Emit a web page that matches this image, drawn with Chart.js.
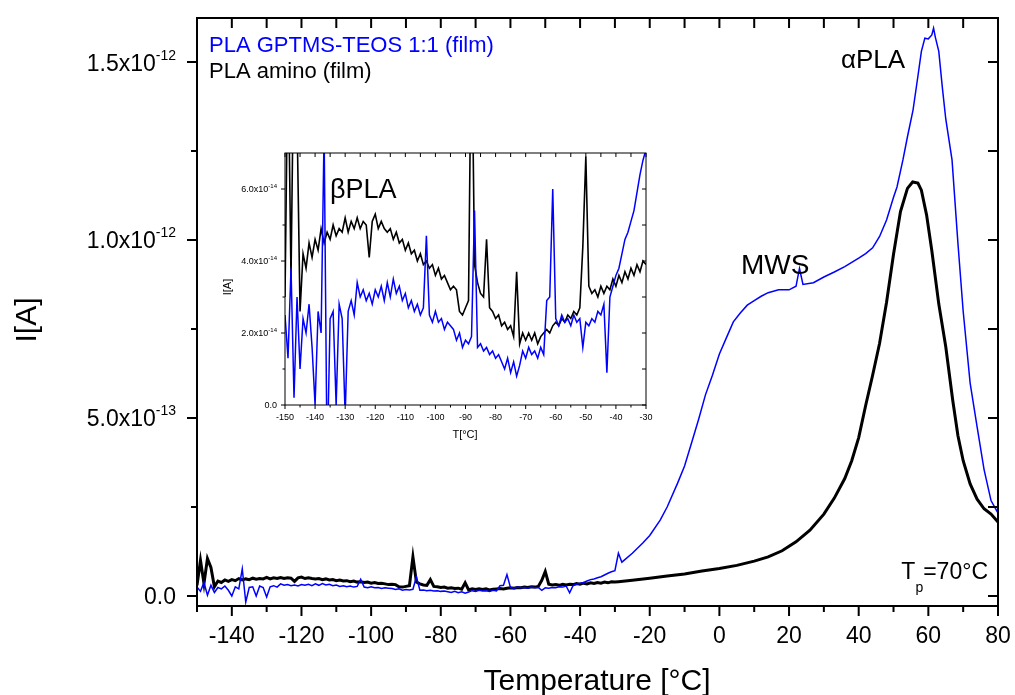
<!DOCTYPE html>
<html>
<head>
<meta charset="utf-8">
<script src="https://cdn.jsdelivr.net/npm/chart.js@4/dist/chart.umd.min.js"></script>
<style>
  body { margin: 0; background: #fff; }
  #wrap { position: relative; width: 1015px; height: 695px; }
  #inset { position: absolute; left: 220px; top: 140px; }
</style>
</head>
<body>
<div id="wrap">
  <canvas id="main" width="1015" height="695"></canvas>
  <canvas id="inset" width="440" height="310"></canvas>
</div>
<script>
// low temperature part, shared by main plot and inset (current in units of 1e-14 A)
const lowT = [
  -150,-149,-148,-147,-146,-145,-144,-143,-142,-141,
  -140,-139,-138,-137,-136,-135,-134,-133,-132,-131,
  -130,-129,-128,-127,-126,-125,-124,-123,-122,-121,
  -120,-119,-118,-117,-116,-115,-114,-113,-112,-111,
  -110,-109,-108,-107,-106,-105,-104,-103,-102,-101,
  -100,-99,-98,-97,-96,-95,-94,-93,-92,-91,
  -90,-89,-88,-87,-86,-85,-84,-83,-82,-81,
  -80,-79,-78,-77,-76,-75,-74,-73,-72,-71,
  -70,-69,-68,-67,-66,-65,-64,-63,-62,-61,
  -60,-59,-58,-57,-56,-55,-54,-53,-52,-51,
  -50,-49,-48,-47,-46,-45,-44,-43,-42,-41,
  -40,-39,-38,-37,-36,-35,-34,-33,-32,-31,
  -30];
const blackLow = [
  3.0, 10.0, 3.5, 10.5, 8.0, 2.6, 4.2, 3.8, 4.5, 4.1,
  4.6, 4.3, 4.9, 4.5, 4.8, 4.6, 5.0, 4.7, 4.9, 4.8,
  5.2, 4.8, 5.1, 4.9, 5.2, 4.9, 5.1, 5.0, 4.1, 5.1,
  5.3, 4.9, 5.1, 4.9, 4.8, 4.9, 4.6, 4.8, 4.5, 4.6,
  4.3, 4.5, 4.2, 4.3, 4.0, 4.2, 3.9, 4.0, 3.8, 3.9,
  3.6, 3.8, 3.5, 3.6, 3.4, 3.2, 3.3, 3.2, 2.6, 2.5,
  2.7, 2.9, 11.0, 3.9, 3.4, 3.1, 3.0, 4.6, 2.7, 2.6,
  2.4, 2.5, 2.2, 2.3, 2.1, 2.2, 1.9, 3.7, 1.7, 2.0,
  1.8, 2.0, 1.8, 2.0, 1.7, 1.9, 2.0, 2.1, 2.0, 2.2,
  2.3, 2.2, 2.4, 2.3, 2.5, 2.4, 2.6, 2.5, 2.7, 4.4,
  6.9, 3.3, 3.1, 3.2, 3.0, 3.3, 3.1, 3.3, 3.2, 3.5,
  3.3, 3.6, 3.4, 3.7, 3.5, 3.8, 3.6, 3.9, 3.7, 4.0,
  3.9];
const blueLow = [
  2.5, 1.3, 3.8, 0.2, 3.0, 1.0, 2.4, 2.0, 2.8, 1.6,
  0.0, 2.6, 2.0, 7.6, -1.7, 2.4, 2.6, 0.0, 2.8, 2.4,
  -0.3, 2.6, 2.9, 2.5, 3.4, 3.0, 3.2, 2.9, 3.1, 2.8,
  3.2, 3.0, 3.3, 2.9, 3.4, 3.0, 3.5, 3.1, 3.3, 2.9,
  3.1, 2.7, 2.9, 2.6, 2.8, 2.5, 2.7, 4.7, 2.5, 2.3,
  2.6, 2.3, 2.4, 2.1, 2.3, 2.2, 2.1, 1.8, 2.0, 1.6,
  1.8, 1.7, 1.9, 5.4, 1.6, 1.7, 1.5, 1.6, 1.4, 1.5,
  1.3, 1.4, 1.2, 1.0, 1.3, 0.9, 1.2, 0.8, 1.1, 1.5,
  1.3, 1.6, 1.4, 1.5, 1.3, 1.6, 1.4, 2.9, 3.0, 6.0,
  2.4, 2.2, 2.5, 2.3, 2.4, 2.2, 2.5, 2.3, 2.4, 1.6,
  2.3, 2.2, 2.4, 2.3, 2.6, 2.5, 2.8, 0.9, 3.0, 3.3,
  3.6, 3.8, 4.2, 4.6, 4.8, 5.1, 5.4, 5.9, 6.4, 6.8,
  7.1];

// high temperature part (current in units of 1e-13 A)
const blueHighT = [-29, -28, -25, -22, -20, -17, -15, -12, -10, -8, -6, -4, -2, 0, 2, 4, 6, 8, 10, 12, 14, 17, 20, 22, 23, 24, 27, 30, 33, 36, 40, 42, 44, 46, 48, 50, 51, 52.7, 54, 55.6, 57, 58, 59, 60, 61, 61.5, 62, 63, 64, 65, 66.8, 68.5, 70, 72, 74, 76, 78, 80];
const blueHighI = [1.2, 0.95, 1.2, 1.49, 1.7, 2.13, 2.5, 3.17, 3.65, 4.3, 4.95, 5.65, 6.2, 6.8, 7.25, 7.7, 7.95, 8.17, 8.3, 8.42, 8.52, 8.6, 8.6, 8.7, 9.2, 8.75, 8.8, 8.96, 9.1, 9.25, 9.49, 9.62, 9.78, 10.1, 10.56, 11.2, 11.49, 12.25, 12.9, 13.65, 14.6, 15.3, 15.67, 15.65, 15.76, 15.95, 15.7, 15.3, 14.3, 13.4, 12.25, 9.9, 8.0, 5.98, 4.75, 3.55, 2.68, 2.33];
const blackHighT = [-29, -25, -20, -15, -10, -5, 0, 5, 10, 14, 18, 22, 26, 30, 33, 36, 38, 40, 42, 44, 46, 48, 50, 52, 54, 55.5, 57, 58, 59.5, 61, 63, 65, 67, 68.5, 70, 72, 74, 76, 78, 80];
const blackHighI = [0.4, 0.44, 0.5, 0.56, 0.62, 0.7, 0.77, 0.86, 0.98, 1.1, 1.27, 1.52, 1.85, 2.3, 2.75, 3.3, 3.8, 4.45, 5.35, 6.2, 7.1, 8.25, 9.6, 10.8, 11.45, 11.63, 11.6, 11.4, 10.7, 9.7, 8.2, 7.0, 5.5, 4.5, 3.8, 3.15, 2.72, 2.45, 2.3, 2.08];

// ticks
const mainXTicks = [-140, -120, -100, -80, -60, -40, -20, 0, 20, 40, 60, 80];
const mainXMinor = [-150, -130, -110, -90, -70, -50, -30, -10, 10, 30, 50, 70];
const mainYTicks = [0, 0.5e-12, 1.0e-12, 1.5e-12];
const mainYMinor = [0.25e-12, 0.75e-12, 1.25e-12];
const mainYLabels = [['0.0', ''], ['5.0x10', '-13'], ['1.0x10', '-12'], ['1.5x10', '-12']];
const insetXTicks = [-150, -140, -130, -120, -110, -100, -90, -80, -70, -60, -50, -40, -30];
const insetXMinor = [-145, -135, -125, -115, -105, -95, -85, -75, -65, -55, -45, -35];
const insetYTicks = [0, 2e-14, 4e-14, 6e-14];
const insetYMinor = [1e-14, 3e-14, 5e-14];
const insetYLabels = [['0.0', ''], ['2.0x10', '-14'], ['4.0x10', '-14'], ['6.0x10', '-14']];

const FONT = '"Liberation Sans", Arial, sans-serif';
const BLUE = '#0000ff';

function pts(ts, vs, unit) {
  return ts.map((t, i) => ({ x: t, y: vs[i] * unit }));
}

// frame, ticks and tick labels drawn from the chart's scales
function framePlugin(o) {
  return {
    id: 'frame',
    afterDatasetsDraw(chart) {
      const { ctx, chartArea: a, scales: { x, y } } = chart;
      ctx.save();
      ctx.strokeStyle = '#000';
      ctx.lineWidth = o.lw;
      ctx.strokeRect(a.left, a.top, a.right - a.left, a.bottom - a.top);
      ctx.beginPath();
      const xt = (v, len, inLen) => {
        const px = x.getPixelForValue(v);
        ctx.moveTo(px, a.bottom); ctx.lineTo(px, a.bottom + len);
        ctx.moveTo(px, a.top); ctx.lineTo(px, a.top + inLen);
      };
      const yt = (v, len, inLen) => {
        const py = y.getPixelForValue(v);
        ctx.moveTo(a.left, py); ctx.lineTo(a.left - len, py);
        ctx.moveTo(a.right, py); ctx.lineTo(a.right - inLen, py);
      };
      o.xMajor.forEach(v => xt(v, o.major, o.major));
      o.xMinor.forEach(v => xt(v, o.minor, o.major));
      o.yMajor.forEach(v => yt(v, o.major, o.major));
      o.yMinor.forEach(v => yt(v, o.minor, o.major));
      ctx.stroke();

      ctx.fillStyle = '#000';
      ctx.font = o.tickFont;
      ctx.textAlign = 'center';
      ctx.textBaseline = 'alphabetic';
      o.xMajor.forEach(v => ctx.fillText(String(v), x.getPixelForValue(v), a.bottom + o.xLabelDy));

      const right = a.left - o.yGap;
      o.yMajor.forEach((v, i) => {
        const py = y.getPixelForValue(v) + o.yLabelDy;
        const [m, s] = o.yLabels[i];
        ctx.textAlign = 'right';
        ctx.font = o.supFont;
        const sw = s ? ctx.measureText(s).width : 0;
        if (s) ctx.fillText(s, right, py - o.supRaise);
        ctx.font = o.tickFont;
        ctx.fillText(m, right - sw, py);
      });
      if (o.extra) o.extra(ctx, chart);
      ctx.restore();
    }
  };
}

function baseOptions(xmin, xmax, ymin, ymax, yW, xH, pad) {
  return {
    responsive: false,
    animation: false,
    devicePixelRatio: 1,
    layout: { padding: pad },
    plugins: { legend: { display: false }, tooltip: { enabled: false } },
    elements: { point: { radius: 0 }, line: { tension: 0 } },
    scales: {
      x: { type: 'linear', min: xmin, max: xmax, grid: { display: false }, border: { display: false },
           ticks: { display: false }, afterFit: s => { s.height = xH; } },
      y: { type: 'linear', min: ymin, max: ymax, grid: { display: false }, border: { display: false },
           ticks: { display: false }, afterFit: s => { s.width = yW; } }
    }
  };
}

// main chart
new Chart(document.getElementById('main'), {
  type: 'scatter',
  data: {
    datasets: [
      { label: 'PLA GPTMS-TEOS 1:1 (film)', data: pts(lowT, blueLow, 1e-14).concat(pts(blueHighT, blueHighI, 1e-13)),
        showLine: true, borderColor: BLUE, borderWidth: 1.5 },
      { label: 'PLA amino (film)', data: pts(lowT, blackLow, 1e-14).concat(pts(blackHighT, blackHighI, 1e-13)),
        showLine: true, borderColor: '#000', borderWidth: 3 }
    ]
  },
  options: baseOptions(-150, 80, -0.0281e-12, 1.6236e-12, 197, 89, { top: 18, right: 17, left: 0, bottom: 0 }),
  plugins: [framePlugin({
    lw: 2, major: 10, minor: 6,
    xMajor: mainXTicks, xMinor: mainXMinor, yMajor: mainYTicks, yMinor: mainYMinor, yLabels: mainYLabels,
    tickFont: '23px ' + FONT, supFont: '14px ' + FONT,
    xLabelDy: 37, yGap: 21, yLabelDy: 8.5, supRaise: 11,
    extra(ctx, chart) {
      const ds = chart.data.datasets;
      ctx.textAlign = 'left';
      ctx.font = '22px ' + FONT;
      ctx.fillStyle = ds[0].borderColor; ctx.fillText(ds[0].label, 209, 52);
      ctx.fillStyle = ds[1].borderColor; ctx.fillText(ds[1].label, 209, 78);
      ctx.fillStyle = '#000';
      ctx.font = '26px ' + FONT;
      ctx.fillText('\u03b1PLA', 841, 68);
      ctx.font = '28px ' + FONT;
      ctx.fillText('MWS', 741, 274);
      // T_p=70°C
      ctx.font = '23px ' + FONT;
      const wT = ctx.measureText('T').width, wR = ctx.measureText('=70\u00b0C').width;
      ctx.font = '14px ' + FONT;
      const wp = ctx.measureText('p').width;
      let tx = 988 - wT - wp - wR;
      ctx.font = '23px ' + FONT; ctx.fillText('T', tx, 579);
      ctx.font = '14px ' + FONT; ctx.fillText('p', tx + wT, 592);
      ctx.font = '23px ' + FONT; ctx.fillText('=70\u00b0C', tx + wT + wp, 579);
      // axis titles
      ctx.font = '30px ' + FONT;
      ctx.textAlign = 'center';
      ctx.fillText('Temperature [\u00b0C]', 597, 690);
      ctx.save();
      ctx.translate(28, 320);
      ctx.rotate(-Math.PI / 2);
      ctx.textBaseline = 'middle';
      ctx.fillText('I[A]', 0, 0);
      ctx.restore();
    }
  })]
});

// inset chart
new Chart(document.getElementById('inset'), {
  type: 'scatter',
  data: {
    datasets: [
      { data: pts(lowT, blueLow, 1e-14), showLine: true, borderColor: BLUE, borderWidth: 1.5 },
      { data: pts(lowT, blackLow, 1e-14), showLine: true, borderColor: '#000', borderWidth: 1.6 }
    ]
  },
  options: baseOptions(-150, -30, 0, 7e-14, 65, 45, { top: 13, right: 14, left: 0, bottom: 0 }),
  plugins: [framePlugin({
    lw: 1, major: 4, minor: 2.5,
    xMajor: insetXTicks, xMinor: insetXMinor, yMajor: insetYTicks, yMinor: insetYMinor, yLabels: insetYLabels,
    tickFont: '9px ' + FONT, supFont: '6px ' + FONT,
    xLabelDy: 15, yGap: 8, yLabelDy: 3, supRaise: 4,
    extra(ctx) {
      ctx.textAlign = 'left';
      ctx.font = '27px ' + FONT;
      ctx.fillText('\u03b2PLA', 110, 58);
      ctx.font = '11px ' + FONT;
      ctx.textAlign = 'center';
      ctx.fillText('T[\u00b0C]', 245, 298);
      ctx.save();
      ctx.translate(8, 147);
      ctx.rotate(-Math.PI / 2);
      ctx.textBaseline = 'middle';
      ctx.fillText('I[A]', 0, 0);
      ctx.restore();
    }
  })]
});
</script>
</body>
</html>
